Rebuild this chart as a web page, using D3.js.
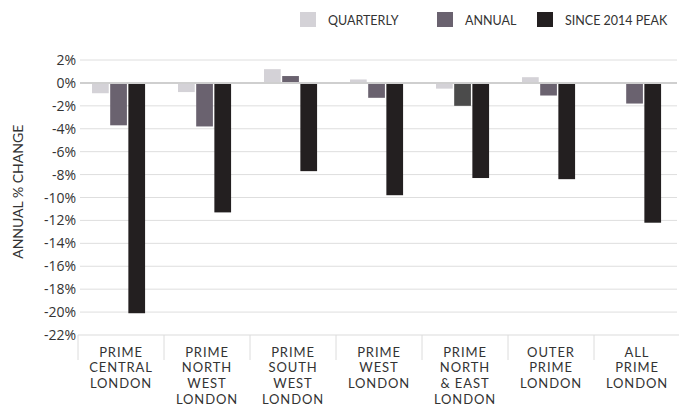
<!DOCTYPE html>
<html>
<head>
<meta charset="utf-8">
<script src="https://cdn.jsdelivr.net/npm/d3@7/dist/d3.min.js"></script>
<style>
  html, body { margin: 0; padding: 0; background: #fff; }
  svg { display: block; }
  .tick-label { font-family: "Open Sans", sans-serif; font-size: 14px; fill: #333; }
  .cat-label { font-family: Lato, sans-serif; font-size: 13px; letter-spacing: 0.9px; fill: #333; }
  .legend-label { font-family: Lato, sans-serif; font-size: 12.5px; fill: #333; }
  .axis-title { font-family: Lato, sans-serif; font-size: 14px; fill: #333; }
</style>
</head>
<body>
<div id="chart"></div>
<script>
const W = 679;
const H = 406;

const CATEGORIES = [
  ["PRIME", "CENTRAL", "LONDON"],
  ["PRIME", "NORTH", "WEST", "LONDON"],
  ["PRIME", "SOUTH", "WEST", "LONDON"],
  ["PRIME", "WEST", "LONDON"],
  ["PRIME", "NORTH", "& EAST", "LONDON"],
  ["OUTER", "PRIME", "LONDON"],
  ["ALL", "PRIME", "LONDON"],
];
const SERIES = ["QUARTERLY", "ANNUAL", "SINCE 2014 PEAK"];
const QUARTERLY = [-0.9, -0.8, 1.2, 0.3, -0.5, 0.5, 0];
const ANNUAL = [-3.7, -3.8, 0.6, -1.3, -2.0, -1.1, -1.8];
const SINCE_PEAK = [-20.1, -11.3, -7.7, -9.8, -8.3, -8.4, -12.2];
const Y_TICKS = [2, 0, -2, -4, -6, -8, -10, -12, -14, -16, -18, -20, -22];

const COLORS = { "QUARTERLY": "#d4d2d7", "ANNUAL": "#6a626f", "SINCE 2014 PEAK": "#231f20" };
// one annual bar in the original is drawn in a darker grey
const ANNUAL_ODD = { index: 4, color: "#4b4b4b" };

const svg = d3.select("#chart").append("svg").attr("width", W).attr("height", H);

const x = d3.scaleBand().domain(d3.range(CATEGORIES.length)).range([78, 680]);
const bw = x.bandwidth();
const xs = d3.scaleBand().domain(SERIES).range([bw * 0.163, bw * 0.78]).paddingInner(0.08);
const y = d3.scaleLinear().domain([-22, 2]).range([335, 60]);

// gridlines
svg.append("g").selectAll("line").data(Y_TICKS.filter((t) => t !== 0 && t !== -22)).join("line")
  .attr("x1", 80).attr("x2", 677)
  .attr("y1", (d) => y(d)).attr("y2", (d) => y(d))
  .attr("stroke", "#dedede").attr("stroke-width", 1);

// tick labels
svg.append("g").selectAll("text").data(Y_TICKS).join("text")
  .attr("class", "tick-label")
  .attr("x", 76).attr("y", (d) => y(d))
  .attr("dy", "0.36em")
  .attr("text-anchor", "end")
  .text((d) => `${d}%`);

// bars
const values = { "QUARTERLY": QUARTERLY, "ANNUAL": ANNUAL, "SINCE 2014 PEAK": SINCE_PEAK };
const barData = [];
CATEGORIES.forEach((_, i) => {
  SERIES.forEach((s) => barData.push({ i, s, v: values[s][i] }));
});
svg.append("g").selectAll("rect").data(barData.filter((d) => d.v !== 0)).join("rect")
  .attr("x", (d) => x(d.i) + xs(d.s))
  .attr("width", xs.bandwidth())
  .attr("y", (d) => y(Math.max(0, d.v)))
  .attr("height", (d) => Math.abs(y(d.v) - y(0)))
  .attr("fill", (d) => (d.s === "ANNUAL" && d.i === ANNUAL_ODD.index ? ANNUAL_ODD.color : COLORS[d.s]));

// zero line
svg.append("line")
  .attr("x1", 80).attr("x2", 677)
  .attr("y1", y(0)).attr("y2", y(0))
  .attr("stroke", "#cfcfcf").attr("stroke-width", 2);

// bottom category axis
svg.append("line")
  .attr("x1", x.range()[0]).attr("x2", x.range()[1] - 1)
  .attr("y1", y(-22)).attr("y2", y(-22))
  .attr("stroke", "#dcdcdc").attr("stroke-width", 1.2);
const bounds = d3.range(CATEGORIES.length + 1).map((i) => x.range()[0] + i * x.step());
svg.append("g").selectAll("line").data(bounds).join("line")
  .attr("x1", (d) => Math.min(d, 679.5)).attr("x2", (d) => Math.min(d, 679.5))
  .attr("y1", y(-22)).attr("y2", 360)
  .attr("stroke", "#dcdcdc").attr("stroke-width", 1);

const cats = svg.append("g").selectAll("text").data(CATEGORIES).join("text")
  .attr("class", "cat-label")
  .attr("text-anchor", "middle");
cats.selectAll("tspan").data((d, i) => d.map((line) => ({ line, i }))).join("tspan")
  .attr("x", (d) => x(d.i) + bw / 2)
  .attr("y", (d, j) => 356.5 + j * 15.7)
  .text((d) => d.line);

// axis title
svg.append("text")
  .attr("class", "axis-title")
  .attr("transform", `translate(23, ${y(-9.5)}) rotate(-90)`)
  .attr("text-anchor", "middle")
  .text("ANNUAL % CHANGE");

// legend
const LEGEND_X = [300, 437, 537];
const legend = svg.append("g").selectAll("g").data(SERIES).join("g")
  .attr("transform", (d, i) => `translate(${LEGEND_X[i]}, 12)`);
legend.append("rect").attr("width", 16).attr("height", 15).attr("fill", (d) => COLORS[d]);
legend.append("text").attr("class", "legend-label")
  .attr("x", 28).attr("y", 8).attr("dy", "0.36em")
  .text((d) => d);
</script>
</body>
</html>
